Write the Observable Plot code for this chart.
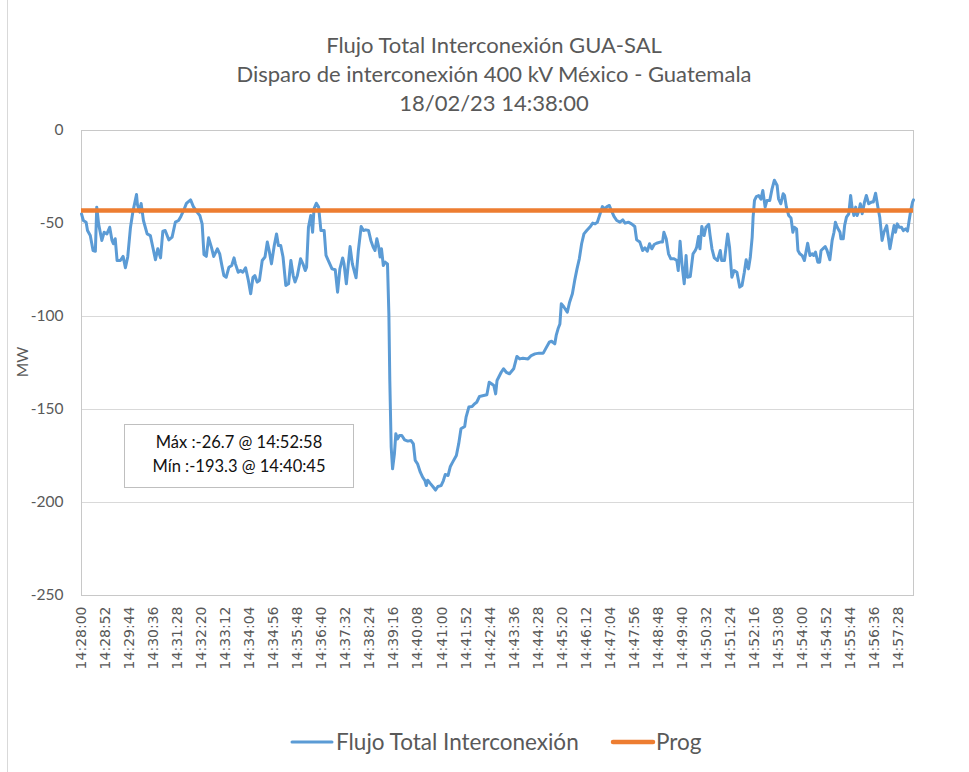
<!DOCTYPE html>
<html>
<head>
<meta charset="utf-8">
<script src="https://cdn.jsdelivr.net/npm/d3@7"></script>
<script src="https://cdn.jsdelivr.net/npm/@observablehq/plot@0.6"></script>
<style>
  body { margin: 0; background: #fff; }
  #wrap { position: relative; width: 969px; height: 772px; overflow: hidden; font-family: Lato, "Open Sans", sans-serif; color: #595959; background: #fff; }
  #border { position: absolute; left: 7px; top: -2px; width: 2000px; height: 2000px; border-left: 1px solid #d9d9d9; border-top: 1px solid #d9d9d9; }
  #title { position: absolute; left: 0; top: 30px; width: 988px; text-align: center; font-size: 22px; line-height: 29px; white-space: pre; }
  #chart { position: absolute; left: 0; top: 120px; }
  #ylabel { position: absolute; left: 22px; top: 362px; transform: translate(-50%, -50%) rotate(-90deg); font-size: 15.5px; line-height: 16px; white-space: pre; }
  #note { position: absolute; left: 124px; top: 424px; width: 228px; height: 57px; border: 1px solid #bfbfbf; background: #fff; text-align: center; font-size: 16.5px; line-height: 24px; color: #111; padding-top: 5px; box-sizing: content-box; }
  #legend { position: absolute; left: 0; top: 728px; width: 969px; height: 30px; }
  #legend span { position: absolute; top: 0; font-size: 22.5px; line-height: 28px; white-space: pre; }
  #legend svg { position: absolute; top: 0; }
</style>
</head>
<body>
<div id="wrap">
  <div id="border"></div>
  <div id="title"></div>
  <div id="chart"></div>
  <div id="ylabel"></div>
  <div id="note"></div>
  <div id="legend"></div>
</div>
<script>
const titleLines = ["Flujo Total Interconexión GUA-SAL", "Disparo de interconexión 400 kV México - Guatemala", "18/02/23 14:38:00"];
const noteLines = ["Máx :-26.7 @ 14:52:58", "Mín :-193.3 @ 14:40:45"];
const seriesNames = ["Flujo Total Interconexión", "Prog"];
const seriesColors = ["#5B9BD5", "#ED7D31"];
const yLabel = "MW";
const startTime = "14:28:00";
const yTicks = [0, -50, -100, -150, -200, -250];
const xTickLabels = ["14:28:00","14:28:52","14:29:44","14:30:36","14:31:28","14:32:20","14:33:12","14:34:04","14:34:56","14:35:48","14:36:40","14:37:32","14:38:24","14:39:16","14:40:08","14:41:00","14:41:52","14:42:44","14:43:36","14:44:28","14:45:20","14:46:12","14:47:04","14:47:56","14:48:48","14:49:40","14:50:32","14:51:24","14:52:16","14:53:08","14:54:00","14:54:52","14:55:44","14:56:36","14:57:28"];
const xEnd = 1800; // seconds after 14:28:00 shown on the axis
const progValue = -43;

// seconds after 14:28:00
const secs = [0,4,10,13,19,25,30,33,37,44,49,55,61,66,69,73,77,84,90,95,100,106,111,119,121,126,129,134,142,149,155,160,165,171,176,181,189,196,203,210,215,221,227,236,242,250,256,261,265,270,275,281,286,294,299,
303,308,313,319,325,330,333,339,344,349,355,361,366,371,375,380,385,391,397,402,406,411,417,422,426,431,436,442,448,453,458,462,467,474,479,484,487,491,496,500,503,508,513,518,525,529,534,542,549,554,559,565,568,573,581,586,594,599,
605,610,615,621,626,631,635,639,643,646,649,653,657,662,665,667,670,673,677,680,684,688,693,699,706,713,718,722,727,733,738,743,746,749,754,760,766,771,778,783,787,793,798,803,811,816,821,829,832,838,845,850,855,861,870,877,882,887,892,896,899,
908,913,919,926,935,942,948,955,966,973,981,990,999,1004,1012,1017,1024,1027,1031,1035,1038,1043,1051,1056,1062,1067,1072,1077,1082,1087,1093,1100,1106,1111,1116,1122,1127,1132,1137,1142,1147,1152,1158,1165,1171,1176,1183,1190,1197,
1201,1208,1214,1219,1224,1229,1234,1239,1244,1252,1257,1260,1265,1270,1275,1282,1288,1291,1295,1299,1304,1308,1311,1317,1323,1328,1331,1335,1338,1342,1347,1351,1357,1360,1364,1369,1376,1382,1385,1391,1398,1402,1407,1412,1418,1424,1429,1434,1438,1443,1447,1451,1453,1456,1460,1465,1470,1474,1479,1483,1489,1494,1499,1505,
1508,1513,1518,1521,1525,1530,1535,1539,1542,1547,1550,1554,1559,1564,1568,1571,1576,1581,1584,1588,1593,1597,1600,1606,1609,1613,1619,1624,1628,1631,1635,1641,1643,1648,1651,1655,1660,1664,1667,1671,1675,1678,1682,1685,1689,1694,1698,1703,1709,1713,1718,1723,1727,1732,1736,1742,1745,1749,1754,1758,1761,1765,1769,1774,1778,1783,1787,1790,1794,1798,1800];

const flujo = [-44.8,-48.4,-49.3,-53.8,-56.5,-64.5,-64.9,-41.2,-50.2,-59.1,-54.7,-55.6,-52,-59.1,-60.9,-58.2,-69.9,-69.9,-67.7,-73.8,-68,-52,-43.9,-34.4,-39.8,-43.9,-39.2,-48.4,-55.6,-56.5,-63.6,-69.5,-63.6,-68.5,-54.1,-53.8,-58.8,-57.3,-49.3,-48.4,-46.2,-43,-39.2,-37.3,-40.9,-43.9,-45.7,-50.2,-66.7,-67.7,-57.7,-62.7,-67.7,-63.6,-66.3,
-71.7,-78,-78.9,-73.5,-72.6,-68.5,-71.7,-76.2,-75.3,-76.2,-73.8,-80.6,-87.8,-78.9,-78,-81.5,-80.6,-69.9,-68,-60,-64.5,-71.7,-61.8,-55.6,-61.8,-61.8,-68,-83.3,-82.4,-69.9,-78,-81.5,-78,-69,-71.7,-75.3,-73.5,-52,-45.7,-54.7,-42.1,-39.1,-41.2,-53.8,-53.8,-67.2,-69.9,-74.4,-74.9,-86.9,-74.4,-68.5,-71.7,-82.4,-62.4,-71.7,-79.2,-64.5,
-51.6,-53.8,-53.4,-53.8,-59.1,-62.7,-64.5,-58.2,-62.7,-68,-63.6,-72.6,-70.8,-71.7,-98.6,-134.4,-170.3,-181.9,-173.8,-163.1,-165.8,-164,-164,-166.3,-167,-166.7,-168.5,-177.4,-179.2,-183.7,-186.4,-188.2,-190.9,-188,-189.6,-191.4,-193.3,-191.4,-190.9,-188.2,-184.9,-185.5,-180.6,-178.3,-174.7,-168.5,-160.4,-159.1,-154.1,-148.7,-148.4,-147,-146.1,-143,-142.5,-142.1,-135.3,-136.2,-137.1,-141.6,-134.4,
-130,-128.1,-130,-130.8,-128.1,-121.5,-122.8,-122.4,-122.8,-121,-120.1,-119.7,-119.7,-117.4,-113.8,-113.3,-114.7,-110.2,-106.6,-104,-93.2,-94.6,-97.7,-92.3,-87.8,-80.6,-74.4,-69,-60.9,-55.6,-53.8,-51.9,-49.8,-50.2,-49.3,-44.8,-40.9,-42.1,-40.9,-40.3,-43.4,-46.2,-48.4,-49.3,-48,-49.8,-49.3,-50.2,-51.6,
-58.8,-60,-64.5,-63.1,-64.9,-60.9,-63.6,-61.3,-60.6,-60,-60,-54.7,-58.2,-66.3,-69,-69,-69.9,-75.3,-59.5,-71.7,-82.4,-67.2,-78.9,-78.5,-66.3,-64.5,-62.7,-57,-63.6,-51.6,-56.5,-52,-50.5,-56.5,-63.6,-68.5,-69.9,-64.5,-69.9,-69.9,-55.6,-62.7,-78.9,-75.3,-76.2,-84.2,-83.3,-76.2,-69.5,-74.4,-68,-57.3,-46.6,-37.6,-35.5,-35,-36.9,-32.3,-41.2,-37.6,-37.6,-31.4,-26.7,-29.6,
-36.7,-39.4,-34,-34.9,-41.2,-45.7,-47,-54.7,-52,-52.9,-64.5,-66.3,-67.2,-69.9,-64.5,-60.6,-67.2,-66.3,-67.2,-65.4,-70.8,-70.8,-64.5,-63.1,-62.4,-64.5,-69.5,-59.1,-54.7,-49.3,-52,-54.7,-58.2,-58.2,-51.1,-46.6,-44.8,-34.9,-41.2,-45.7,-41.2,-45.7,-43,-39.4,-44.8,-38.5,-34.9,-39.4,-38.5,-38.5,-33.7,-41.2,-46.6,-59.1,-54.7,-51.1,-56.5,-63.6,-56.5,-51.1,-54.7,-50.2,-52,-52,-53.8,-52.9,-54.1,-49.3,-43,-38.5,-37.3];

function toSec(s) { const [h, m, ss] = s.split(":").map(Number); return h * 3600 + m * 60 + ss; }
const t0 = toSec(startTime);
const xTicks = xTickLabels.map(s => toSec(s) - t0);
const labelOf = new Map(xTicks.map((t, i) => [t, xTickLabels[i]]));
const data = secs.map((t, i) => ({t, v: flujo[i]}));

document.getElementById("title").textContent = titleLines.join("\n");
document.getElementById("note").innerHTML = noteLines.join("<br>");
document.getElementById("ylabel").textContent = yLabel;

const chart = Plot.plot({
  width: 969,
  height: 555,
  marginLeft: 81,
  marginRight: 56,
  marginTop: 10,
  marginBottom: 80,
  style: { fontFamily: "Lato, sans-serif", fontSize: "15px", color: "#595959", background: "transparent", overflow: "visible" },
  x: { domain: [0, xEnd] },
  y: { domain: [-250, 0] },
  marks: [
    Plot.ruleY(yTicks, { stroke: "#d9d9d9", strokeWidth: 1 }),
    Plot.frame({ stroke: "#c8c8c8", strokeWidth: 1 }),
    Plot.axisY({ ticks: yTicks, tickFormat: d => String(d), tickSize: 0, tickPadding: 18, label: null, fontSize: 15.5 }),
    Plot.axisX({ ticks: xTicks, tickFormat: d => labelOf.get(d), tickRotate: -90, tickSize: 0, tickPadding: 11, label: null, fontFamily: "DejaVu Sans", fontSize: 14 }),
    Plot.line(data, { x: "t", y: "v", stroke: seriesColors[0], strokeWidth: 3, strokeLinejoin: "round" }),
    Plot.ruleY([progValue], { stroke: seriesColors[1], strokeWidth: 4.5 })
  ]
});
document.getElementById("chart").appendChild(chart);

// legend
const legend = document.getElementById("legend");
const legendItems = [
  { name: seriesNames[0], color: seriesColors[0], w: 3, lx: 292, tx: 336 },
  { name: seriesNames[1], color: seriesColors[1], w: 4.5, lx: 613, tx: 656 }
];
for (const it of legendItems) {
  const svg = d3.create("svg").attr("width", 46).attr("height", 28).style("left", (it.lx - 3) + "px");
  svg.append("line").attr("x1", 3).attr("x2", 43).attr("y1", 14).attr("y2", 14)
    .attr("stroke", it.color).attr("stroke-width", it.w).attr("stroke-linecap", "round");
  legend.appendChild(svg.node());
  const sp = document.createElement("span");
  sp.textContent = it.name;
  sp.style.left = it.tx + "px";
  legend.appendChild(sp);
}
</script>
</body>
</html>
